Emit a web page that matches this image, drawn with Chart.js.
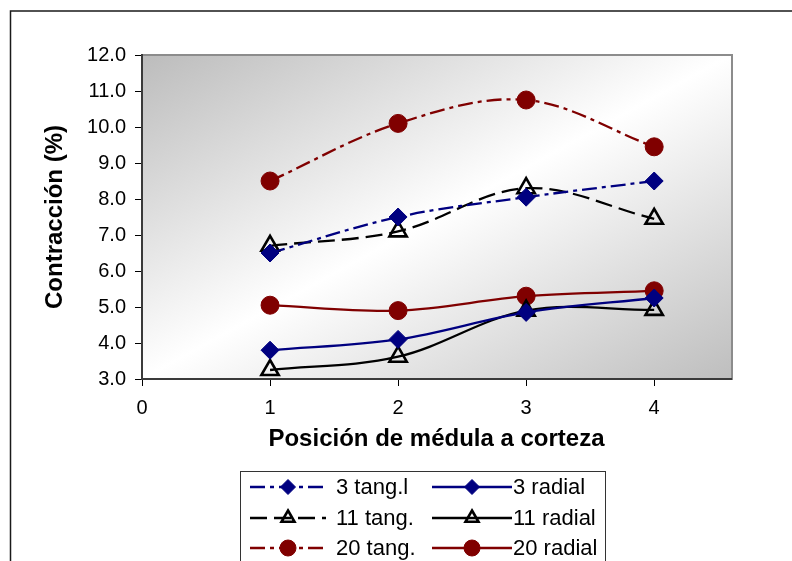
<!DOCTYPE html>
<html>
<head>
<meta charset="utf-8">
<script src="https://cdn.jsdelivr.net/npm/chart.js@4.4.1/dist/chart.umd.min.js"></script>
<style>
  html, body { margin: 0; padding: 0; background: #fff; }
  #wrap { width: 792px; height: 561px; }
</style>
</head>
<body>
<div id="wrap"><canvas id="contraccionChart" width="792" height="561"></canvas></div>
<script>
// posiciones de medula a corteza
var positions = [1, 2, 3, 4];
var xTickValues = [0, 1, 2, 3, 4];

// contraccion (%) por serie
var tang3 = [6.5, 7.5, 8.05, 8.5];
var radial3 = [3.8, 4.1, 4.85, 5.25];
var tang11 = [6.7, 7.1, 8.3, 7.45];
var radial11 = [3.25, 3.62, 4.9, 4.92];
var tang20 = [8.5, 10.1, 10.75, 9.45];
var radial20 = [5.05, 4.9, 5.3, 5.45];

var seriesNames = ["3 tang.l", "3 radial", "11 tang.", "11 radial", "20 tang.", "20 radial"];

var navy = "#000080";
var maroon = "#800000";
var dashDot = [15, 5, 4, 5];
var longDash = [17, 7];

function pts(values) {
    return values.map(function (v, i) { return { x: positions[i], y: v }; });
}

function makeSet(label, values, color, dash, style, radius, fill) {
    return {
        label: label,
        data: pts(values),
        borderColor: color,
        borderWidth: 2.3,
        borderDash: dash,
        tension: 0.35,
        pointStyle: style,
        pointRadius: radius,
        pointBackgroundColor: fill,
        pointBorderColor: color,
        pointBorderWidth: style == "triangle" ? 2.6 : 1
    };
}

var datasets = [
    makeSet(seriesNames[0], tang3, navy, dashDot, "rectRot", 9, navy),
    makeSet(seriesNames[1], radial3, navy, [], "rectRot", 9, navy),
    makeSet(seriesNames[2], tang11, "#000", longDash, "triangle", 10, "rgba(0,0,0,0)"),
    makeSet(seriesNames[3], radial11, "#000", [], "triangle", 10, "rgba(0,0,0,0)"),
    makeSet(seriesNames[4], tang20, maroon, dashDot, "circle", 9, maroon),
    makeSet(seriesNames[5], radial20, maroon, [], "circle", 9, maroon)
];

// fondo, marco y degradado del area de trazado
var backdrop = {
    id: "backdrop",
    beforeDraw: function (chart) {
        var ctx = chart.ctx, a = chart.chartArea;
        var w = a.right - a.left, h = a.bottom - a.top;
        ctx.save();
        ctx.fillStyle = "#fff";
        ctx.fillRect(0, 0, chart.width, chart.height);
        ctx.strokeStyle = "#1a1a1a";
        ctx.lineWidth = 1.5;
        ctx.strokeRect(10.5, 11, 900, 700);

        ctx.save();
        ctx.beginPath();
        ctx.rect(a.left, a.top, w, h);
        ctx.clip();
        ctx.translate(a.left, a.top);
        ctx.scale(w, h);
        var g = ctx.createLinearGradient(0, 0, 1, 1);
        g.addColorStop(0, "#bcbcbc");
        g.addColorStop(0.5, "#ffffff");
        g.addColorStop(1, "#bebebe");
        ctx.fillStyle = g;
        ctx.fillRect(0, 0, 1, 1);
        ctx.restore();

        ctx.strokeStyle = "#8c8c8c";
        ctx.lineWidth = 2;
        ctx.strokeRect(a.left, a.top, w + 1, h);
        ctx.restore();
    }
};

// leyenda en dos columnas
var boxLegend = {
    id: "boxLegend",
    afterDraw: function (chart) {
        var ctx = chart.ctx;
        var colLine = [[250, 326], [432, 512]];
        var colText = [336, 513];
        var rowY = [487, 518, 548];
        ctx.save();
        ctx.fillStyle = "#fff";
        ctx.fillRect(240, 471, 365, 120);
        ctx.strokeStyle = "#333";
        ctx.lineWidth = 1;
        ctx.strokeRect(240.5, 471.5, 365, 120);
        chart.data.datasets.forEach(function (ds, i) {
            var c = i % 2, r = Math.floor(i / 2);
            var y = rowY[r];
            ctx.strokeStyle = ds.borderColor;
            ctx.lineWidth = ds.borderWidth;
            ctx.setLineDash(ds.borderDash);
            ctx.beginPath();
            ctx.moveTo(colLine[c][0], y);
            ctx.lineTo(colLine[c][1], y);
            ctx.stroke();
            ctx.setLineDash([]);
            ctx.fillStyle = ds.pointBackgroundColor;
            ctx.strokeStyle = ds.pointBorderColor;
            ctx.lineWidth = ds.pointBorderWidth;
            Chart.helpers.drawPoint(ctx, {
                pointStyle: ds.pointStyle,
                radius: ds.pointStyle == "circle" ? 8 : 7.5,
                rotation: 0,
                borderWidth: ds.pointBorderWidth
            }, (colLine[c][0] + colLine[c][1]) / 2, y);
            ctx.fillStyle = "#000";
            ctx.font = "22px 'Liberation Sans', Arial, sans-serif";
            ctx.textBaseline = "middle";
            ctx.textAlign = "left";
            ctx.fillText(ds.label, colText[c], y + 1);
        });
        ctx.restore();
    }
};

Chart.defaults.font.family = "'Liberation Sans', Arial, sans-serif";
Chart.defaults.color = "#000";

new Chart("contraccionChart", {
    type: "line",
    data: { datasets: datasets },
    plugins: [backdrop, boxLegend],
    options: {
        responsive: false,
        animation: false,
        events: [],
        layout: { padding: { left: 10, top: 55, right: 61, bottom: 107 } },
        plugins: {
            legend: { display: false },
            tooltip: { enabled: false }
        },
        scales: {
            x: {
                type: "linear",
                min: 0,
                max: 4.6,
                afterBuildTicks: function (scale) {
                    scale.ticks = xTickValues.map(function (v) { return { value: v }; });
                },
                afterFit: function (scale) { scale.height = 75; },
                ticks: { font: { size: 20 }, padding: 10, maxRotation: 0 },
                grid: { drawOnChartArea: false, color: "#000", tickLength: 7 },
                border: { color: "#3a3a3a", width: 2 },
                title: {
                    display: true,
                    text: "Posición de médula a corteza",
                    font: { size: 24, weight: "bold" },
                    padding: { top: 0, bottom: 0 }
                }
            },
            y: {
                min: 3,
                max: 12,
                afterFit: function (scale) { scale.width = 132; },
                ticks: {
                    stepSize: 1,
                    font: { size: 20 },
                    padding: 9,
                    callback: function (v) { return v.toFixed(1); }
                },
                grid: { drawOnChartArea: false, color: "#000", tickLength: 7 },
                border: { color: "#3a3a3a", width: 2 },
                title: {
                    display: true,
                    text: "Contracción (%)",
                    font: { size: 24, weight: "bold" },
                    padding: { top: 31, bottom: 0 }
                }
            }
        }
    }
});
</script>
</body>
</html>
